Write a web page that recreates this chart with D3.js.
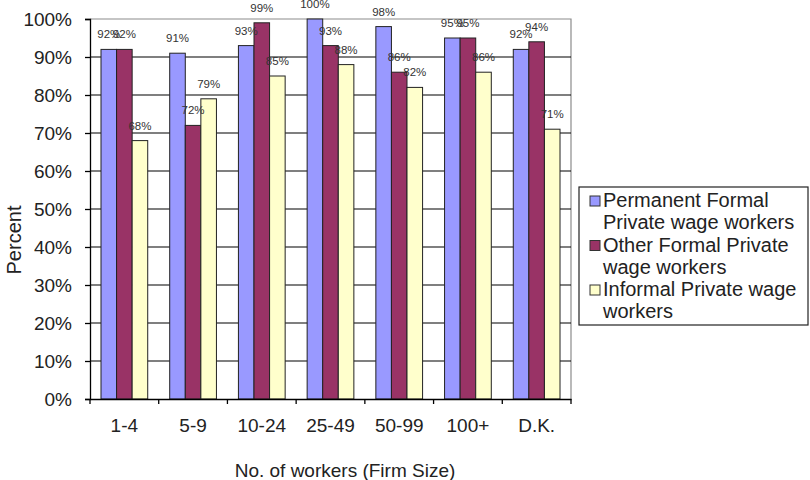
<!DOCTYPE html>
<html>
<head>
<meta charset="utf-8">
<script src="https://cdn.jsdelivr.net/npm/d3@7"></script>
<style>
  body { margin: 0; background: #fff; }
  text { font-family: "Liberation Sans", Arial, sans-serif; }
</style>
</head>
<body>
<div id="chart"></div>
<script>
// data
const categories = ['1-4', '5-9', '10-24', '25-49', '50-99', '100+', 'D.K.'];
const seriesNames = ['Permanent Formal Private wage workers', 'Other Formal Private wage workers', 'Informal Private wage workers'];
const permanentFormal = [92, 91, 93, 100, 98, 95, 92];
const otherFormal = [92, 72, 99, 93, 86, 95, 94];
const informal = [68, 79, 85, 88, 82, 86, 71];
const yTicks = [0, 10, 20, 30, 40, 50, 60, 70, 80, 90, 100];
const legendLines = [['Permanent Formal', 'Private wage workers'], ['Other Formal Private', 'wage workers'], ['Informal Private wage', 'workers']];
const colors = ['#9999ff', '#993366', '#ffffcc'];

const width = 810, height = 480;
const plotLeft = 90, plotRight = 571, plotTop = 19, plotBottom = 399;

// set the shape of a DOM element
function setShape(elem, w, h) {
    return elem.attr('width', w).attr('height', h);
}

const svg = setShape(d3.select('#chart').append('svg'), width, height);

const x = d3.scaleBand().domain(categories).range([plotLeft, plotRight])
    .paddingInner(0.32).paddingOuter(0.16);
const xSub = d3.scaleBand().domain(d3.range(3)).range([0, x.bandwidth()]);
const y = d3.scaleLinear().domain([0, 100]).range([plotBottom, plotTop]);

const series = [permanentFormal, otherFormal, informal];

// plot border (grey) on top and right
svg.append('path')
    .attr('d', `M${plotLeft},${plotTop}H${plotRight}V${plotBottom}`)
    .attr('fill', 'none').attr('stroke', '#8c8c8c').attr('stroke-width', 1.2);

// black gridlines
svg.append('g').selectAll('line').data(yTicks.slice(1, -1)).join('line')
    .attr('x1', plotLeft).attr('x2', plotRight)
    .attr('y1', d => y(d)).attr('y2', d => y(d))
    .attr('stroke', '#000').attr('stroke-width', 1.2);

// bars
const groups = svg.append('g').selectAll('g').data(categories).join('g')
    .attr('transform', d => `translate(${x(d)},0)`);

groups.selectAll('rect')
    .data((d, i) => series.map((s, k) => ({k, v: s[i]})))
    .join('rect')
    .attr('x', d => xSub(d.k))
    .attr('y', d => y(d.v))
    .attr('width', xSub.bandwidth())
    .attr('height', d => plotBottom - y(d.v))
    .attr('fill', d => colors[d.k])
    .attr('stroke', '#222').attr('stroke-width', 1);

// value labels (they overlap in the original too)
groups.selectAll('text')
    .data((d, i) => series.map((s, k) => ({k, v: s[i]})))
    .join('text')
    .attr('x', d => xSub(d.k) + xSub.bandwidth() / 2)
    .attr('y', d => y(d.v) - 11)
    .attr('text-anchor', 'middle')
    .attr('font-size', 11.5)
    .attr('fill', '#333')
    .text(d => d.v + '%');

// y axis
const yAxis = d3.axisLeft(y).tickValues(yTicks).tickSize(5).tickPadding(13)
    .tickFormat(d => d + '%');
const yg = svg.append('g').attr('transform', `translate(${plotLeft},0)`).call(yAxis);
yg.select('.domain').attr('stroke', '#000').attr('stroke-width', 1.3);
yg.selectAll('.tick line').attr('stroke', '#000').attr('stroke-width', 1.3);
yg.selectAll('text').attr('font-size', 19).attr('fill', '#222');

// x axis
const xAxis = d3.axisBottom(x).tickSize(0).tickPadding(20);
const xg = svg.append('g').attr('transform', `translate(0,${plotBottom})`).call(xAxis);
xg.select('.domain').attr('stroke', '#000').attr('stroke-width', 1.3);
xg.selectAll('text').attr('font-size', 19).attr('fill', '#222');

// category boundary ticks
const step = x.step();
const bounds = categories.map(c => x(c) - step * x.paddingInner() / 2).concat([plotRight]);
svg.append('g').selectAll('line').data(bounds).join('line')
    .attr('x1', d => d).attr('x2', d => d)
    .attr('y1', plotBottom).attr('y2', plotBottom + 5)
    .attr('stroke', '#000').attr('stroke-width', 1.3);

// axis titles
svg.append('text')
    .attr('x', 345).attr('y', 477)
    .attr('text-anchor', 'middle').attr('font-size', 19).attr('fill', '#222')
    .text('No. of workers (Firm Size)');

svg.append('text')
    .attr('transform', 'translate(21,240) rotate(-90)')
    .attr('text-anchor', 'middle').attr('font-size', 20).attr('fill', '#222')
    .text('Percent');

// legend
const legend = svg.append('g');
legend.append('rect')
    .attr('x', 579).attr('y', 187).attr('width', 229).attr('height', 138)
    .attr('fill', '#fff').attr('stroke', '#222').attr('stroke-width', 1.2);

legendLines.forEach((lines, k) => {
    const base = 207 + k * 44.5;
    legend.append('rect')
        .attr('x', 590).attr('y', base - 11).attr('width', 10).attr('height', 10)
        .attr('fill', colors[k]).attr('stroke', '#333').attr('stroke-width', 1);
    legend.append('text')
        .attr('font-size', 20).attr('fill', '#222')
        .selectAll('tspan').data(lines).join('tspan')
        .attr('x', 603).attr('y', (d, j) => base + j * 22)
        .text(d => d);
});
</script>
</body>
</html>
